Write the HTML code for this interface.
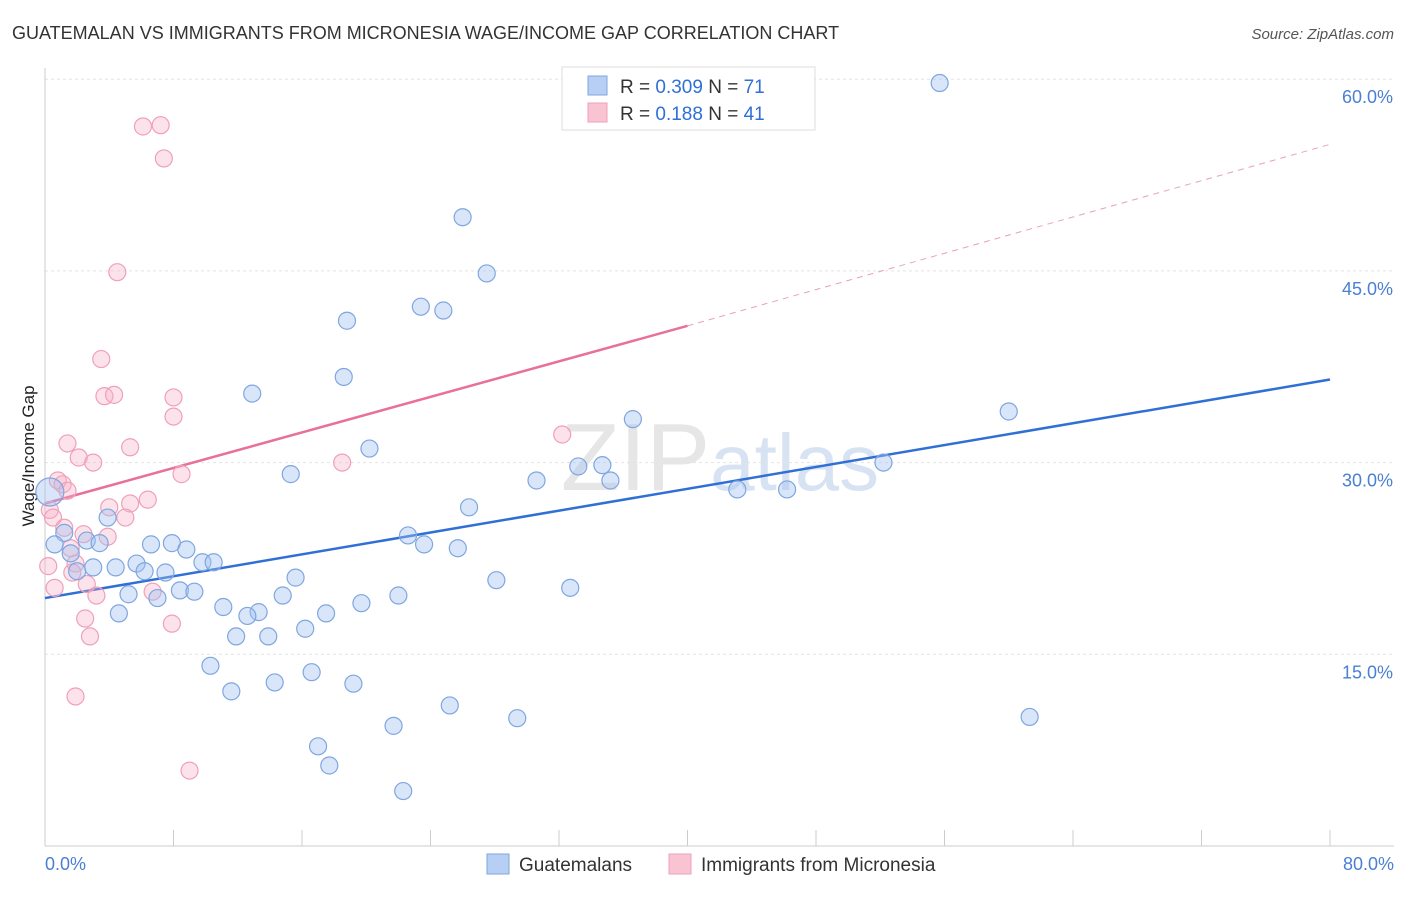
<!DOCTYPE html>
<html><head><meta charset="utf-8"><style>
body{margin:0;background:#fff;font-family:"Liberation Sans",sans-serif;}
svg text{font-family:"Liberation Sans",sans-serif;}
</style></head><body>
<svg id="chart" width="1406" height="892">
<text x="12" y="39" font-size="18" fill="#333">GUATEMALAN VS IMMIGRANTS FROM MICRONESIA WAGE/INCOME GAP CORRELATION CHART</text>
<text x="1394" y="39" font-size="15" fill="#555" text-anchor="end" font-style="italic">Source: ZipAtlas.com</text>
<text x="720" y="490" font-size="96" fill="#e6e6e6" text-anchor="middle" font-family="Liberation Serif">ZIP<tspan fill="#d7e3f3" font-family="Liberation Sans" font-size="80">atlas</tspan></text>
<g id="grid"></g><g id="axes"></g>
<text transform="translate(34,456) rotate(-90)" font-size="17" fill="#222" text-anchor="middle">Wage/Income Gap</text>
<g id="lines"></g><g id="pts"></g>
<g>
<rect x="562" y="67" width="253" height="63" fill="#fff" stroke="#ddd"/>
<rect x="588" y="76" width="19" height="19" fill="#b7cff3" stroke="#7fa6e0"/>
<rect x="588" y="103" width="19" height="19" fill="#f8c3d3" stroke="#f0a0b8"/>
<text x="620" y="93" font-size="19" fill="#333">R = <tspan fill="#2f6fd6">0.309</tspan>   N = <tspan fill="#2f6fd6">71</tspan></text>
<text x="620" y="120" font-size="19" fill="#333">R =  <tspan fill="#2f6fd6">0.188</tspan>   N = <tspan fill="#2f6fd6">41</tspan></text>
</g>
<g>
<rect x="487" y="854" width="22" height="20" fill="#b7cff3" stroke="#7fa6e0"/>
<text x="519" y="871" font-size="19" fill="#333">Guatemalans</text>
<rect x="669" y="854" width="22" height="20" fill="#f8c3d3" stroke="#f0a0b8"/>
<text x="701" y="871" font-size="19" fill="#333">Immigrants from Micronesia</text>
</g>
</svg>
<script>
const blueX=[55.7,26.0,27.5,18.8,23.4,24.8,18.6,12.9,36.6,60.0,20.2,52.2,15.3,33.2,34.7,30.6,35.2,43.1,46.2,26.4,3.9,22.6,23.6,25.7,1.2,0.6,2.6,3.4,6.6,7.9,8.8,1.6,9.8,10.5,5.7,4.4,3.0,6.2,7.5,2.0,15.6,28.1,32.7,8.4,9.3,5.2,7.0,14.8,22.0,19.7,11.1,4.6,13.3,12.6,17.5,16.2,11.9,13.9,10.3,16.6,14.3,19.2,11.6,25.2,29.4,61.3,21.7,17.0,17.7,22.3,0.3];
const blueY=[59.7,49.2,44.8,41.1,42.2,41.9,36.7,35.4,33.4,34.0,31.1,30.0,29.1,29.7,29.8,28.6,28.6,27.9,27.9,26.5,25.7,24.3,23.6,23.3,24.5,23.6,23.9,23.7,23.6,23.7,23.2,22.9,22.2,22.2,22.1,21.8,21.8,21.5,21.4,21.5,21.0,20.8,20.2,20.0,19.9,19.7,19.4,19.6,19.6,19.0,18.7,18.2,18.3,18.0,18.2,17.0,16.4,16.4,14.1,13.6,12.8,12.7,12.1,11.0,10.0,10.1,9.4,7.8,6.3,4.3,27.7];
const pinkX=[6.1,7.2,7.4,4.5,3.5,3.7,4.3,8.0,8.0,32.2,1.4,5.3,2.1,3.0,18.5,8.5,0.8,1.1,1.4,6.4,5.3,4.0,0.3,0.5,5.0,1.2,2.4,3.9,1.6,0.2,1.9,1.7,0.6,2.6,3.2,6.7,2.5,7.9,2.8,1.9,9.0];
const pinkY=[56.3,56.4,53.8,44.9,38.1,35.2,35.3,35.1,33.6,32.2,31.5,31.2,30.4,30.0,30.0,29.1,28.6,28.3,27.8,27.1,26.8,26.5,26.3,25.7,25.7,24.9,24.4,24.2,23.3,21.9,22.1,21.4,20.2,20.5,19.6,19.9,17.8,17.4,16.4,11.7,5.9];
const blueTrend=[19.4,36.5];
const pinkTrend=[26.8,40.7,54.9];
const yTicks=[15,30,45,60];
const xTicks=[0,8,16,24,32,40,48,56,64,72,80];
const NS="http://www.w3.org/2000/svg";
const sx=v=>45+v*1285/80, sy=v=>846-v*12.78;
function mk(tag,attrs,parent){const e=document.createElementNS(NS,tag);for(const k in attrs)e.setAttribute(k,attrs[k]);document.getElementById(parent).appendChild(e);return e;}
yTicks.forEach(t=>{
 const g=mk('line',{x1:45,x2:1394,y1:sy(t),y2:sy(t),stroke:'#e4e4e4','stroke-dasharray':'3,3'},'grid');
 
 
 const l=mk('text',{x:1393,y:sy(t)+24,'font-size':18,fill:'#4a7fd4','text-anchor':'end'},'grid');
 l.textContent=t.toFixed(1)+'%';
 
 
});
mk('line',{x1:45,x2:45,y1:68,y2:846,stroke:'#ccc'},'axes');
mk('line',{x1:45,x2:1394,y1:846,y2:846,stroke:'#ccc'},'axes');
xTicks.forEach(t=>{
 const k=mk('line',{x1:sx(t),x2:sx(t),y1:830,y2:846,stroke:'#ccc'},'axes');
 
 
});
[[0,45,'start'],[80,1394,'end']].forEach(([v,x,a])=>{
 const l=mk('text',{x:x,y:870,'font-size':18,fill:'#4a7fd4','text-anchor':a},'axes');
 l.textContent=v.toFixed(1)+'%';
 
 
});
const bl=mk('line',{x1:sx(0),y1:sy(blueTrend[0]),x2:sx(80),y2:sy(blueTrend[1]),stroke:'#2f6fd6','stroke-width':2.5},'lines');


const pl=mk('line',{x1:sx(0),y1:sy(pinkTrend[0]),x2:sx(40),y2:sy(pinkTrend[1]),stroke:'#e8709a','stroke-width':2.5},'lines');


const pd=mk('line',{x1:sx(40),y1:sy(pinkTrend[1]),x2:sx(80),y2:sy(pinkTrend[2]),stroke:'#eaa0b8','stroke-width':1,'stroke-dasharray':'6,5'},'lines');


pinkX.forEach((x,i)=>{
 const c=mk('circle',{cx:sx(x),cy:sy(pinkY[i]),r:8.5,fill:'rgba(246,175,198,0.35)',stroke:'#f0a0b8','stroke-width':1.2},'pts');
 
 
});
blueX.forEach((x,i)=>{
 const c=mk('circle',{cx:sx(x),cy:sy(blueY[i]),r:i===blueX.length-1?14:8.5,fill:'rgba(160,192,240,0.4)',stroke:'#7fa6e0','stroke-width':1.2},'pts');
 
 
});
</script>
</body></html>
